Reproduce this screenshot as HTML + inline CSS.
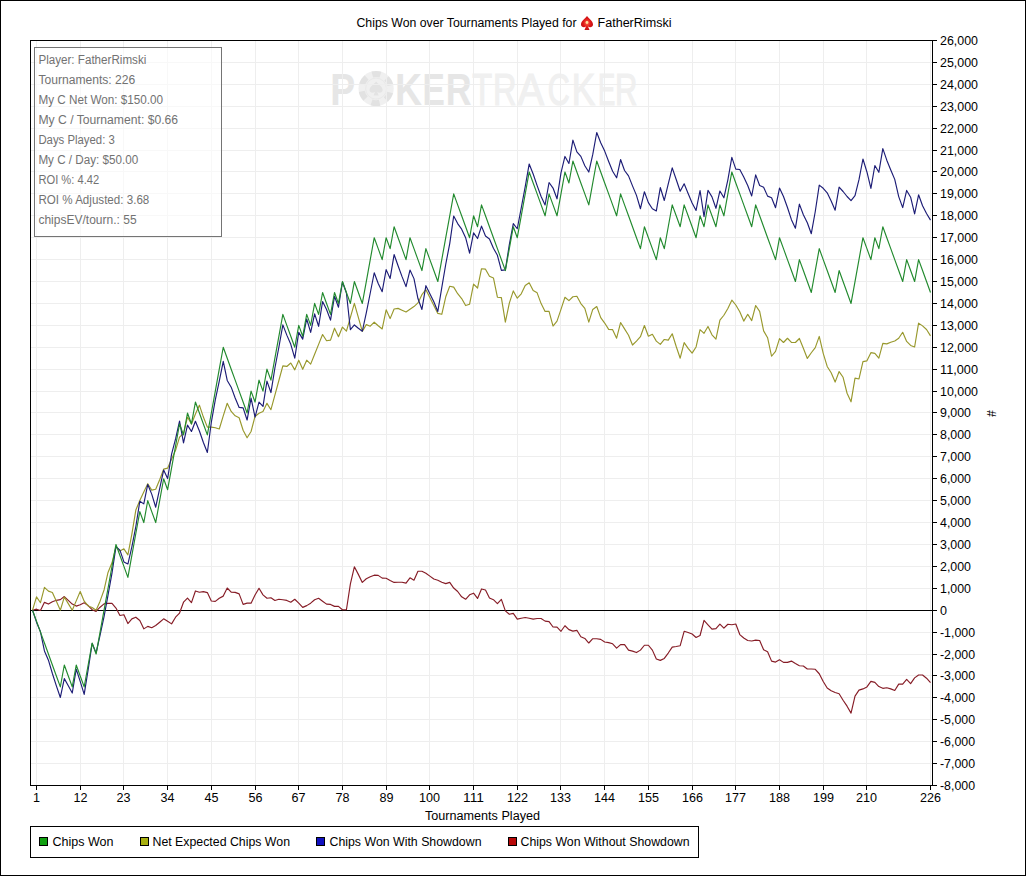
<!DOCTYPE html>
<html><head><meta charset="utf-8"><title>Chips Won over Tournaments Played</title><style>html,body{margin:0;padding:0;background:#fff;width:1026px;height:876px;overflow:hidden}</style></head>
<body><svg width="1026" height="876" viewBox="0 0 1026 876" style="position:absolute;left:0;top:0"><rect x="0.5" y="0.5" width="1025" height="875" fill="#fff" stroke="#000" stroke-width="1"/><g font-family="Liberation Sans, Arial, sans-serif" font-size="45"><text transform="translate(330.31,104.7) scale(0.829,1)" fill="#e6e6e6" font-weight="bold">P</text><text transform="translate(394.99,104.7) scale(0.832,1)" fill="#e6e6e6" font-weight="bold">K</text><text transform="translate(422.56,104.7) scale(0.745,1)" fill="#e6e6e6" font-weight="bold">E</text><text transform="translate(445.81,104.7) scale(0.795,1)" fill="#e6e6e6" font-weight="bold">R</text><text transform="translate(472.17,104.7) scale(0.723,1)" fill="#f0f0f0" stroke="#f0f0f0" stroke-width="1.2">T</text><text transform="translate(493.03,104.7) scale(0.722,1)" fill="#f0f0f0" stroke="#f0f0f0" stroke-width="1.2">R</text><text transform="translate(517.52,104.7) scale(0.885,1)" fill="#f0f0f0" stroke="#f0f0f0" stroke-width="1.2">A</text><text transform="translate(547.65,104.7) scale(0.677,1)" fill="#f0f0f0" stroke="#f0f0f0" stroke-width="1.2">C</text><text transform="translate(571.71,104.7) scale(0.782,1)" fill="#f0f0f0" stroke="#f0f0f0" stroke-width="1.2">K</text><text transform="translate(597.88,104.7) scale(0.574,1)" fill="#f0f0f0" stroke="#f0f0f0" stroke-width="1.2">E</text><text transform="translate(615.06,104.7) scale(0.689,1)" fill="#f0f0f0" stroke="#f0f0f0" stroke-width="1.2">R</text></g><g transform="translate(376.1,88.6)"><circle r="17.6" fill="#f0f0f0"/><circle r="14.6" fill="none" stroke="#e2e2e2" stroke-width="6" stroke-dasharray="8.2 7.09" transform="rotate(-105)"/><circle r="10.5" fill="none" stroke="#e9e9e9" stroke-width="1"/><path d="M0,-7 C-2,-4 -6.5,-2 -6.5,1.5 C-6.5,4.2 -3,5 -1,3.2 L-2.6,7 L2.6,7 L1,3.2 C3,5 6.5,4.2 6.5,1.5 C6.5,-2 2,-4 0,-7Z" fill="#e3e3e3"/></g><path d="M36.5 41V785M80.5 41V785M123.5 41V785M167.5 41V785M211.5 41V785M255.5 41V785M298.5 41V785M342.5 41V785M386.5 41V785M429.5 41V785M473.5 41V785M517.5 41V785M560.5 41V785M604.5 41V785M648.5 41V785M692.5 41V785M735.5 41V785M779.5 41V785M823.5 41V785M866.5 41V785M930.5 41V785M31 785.5H932M31 763.5H932M31 741.5H932M31 719.5H932M31 697.5H932M31 675.5H932M31 654.5H932M31 632.5H932M31 610.5H932M31 588.5H932M31 566.5H932M31 544.5H932M31 522.5H932M31 500.5H932M31 478.5H932M31 456.5H932M31 434.5H932M31 412.5H932M31 391.5H932M31 369.5H932M31 347.5H932M31 325.5H932M31 303.5H932M31 281.5H932M31 259.5H932M31 237.5H932M31 215.5H932M31 193.5H932M31 171.5H932M31 150.5H932M31 128.5H932M31 106.5H932M31 84.5H932M31 62.5H932M31 40.5H932" stroke="#eeeeee" stroke-width="1" fill="none" shape-rendering="crispEdges"/><path d="M31 610.5H932" stroke="#000" stroke-width="1" shape-rendering="crispEdges"/><polyline points="32.53,610.21 36.50,609.18 40.47,610.53 44.45,602.36 48.42,604.07 52.39,601.68 56.37,600.32 60.34,599.62 64.31,596.55 68.29,600.35 72.26,604.07 76.23,606.11 80.21,604.75 84.18,602.71 88.15,605.54 92.13,609.70 96.10,611.37 100.07,607.20 104.05,603.87 108.02,603.37 111.99,603.37 115.97,608.04 119.94,615.53 123.91,614.70 127.89,623.53 131.86,618.86 135.83,617.20 139.81,620.53 143.78,628.87 147.75,626.38 151.73,627.69 155.70,625.54 159.67,622.21 163.65,618.86 167.62,621.36 171.59,623.88 175.57,617.20 179.54,613.03 183.51,602.21 187.49,598.04 191.46,602.67 195.43,590.95 199.41,592.22 203.38,591.62 207.35,592.59 211.33,601.00 215.30,601.40 219.27,598.26 223.25,596.12 227.22,588.01 231.19,592.22 235.17,592.39 239.14,593.86 243.11,604.33 247.09,603.17 251.06,603.17 255.03,595.04 259.01,588.29 262.98,594.85 266.95,598.26 270.93,597.78 274.90,600.43 278.87,599.25 282.85,599.73 286.82,600.43 290.79,602.21 294.77,599.27 298.74,603.17 302.71,607.38 306.69,605.63 310.66,603.17 314.63,599.75 318.61,598.31 322.58,601.22 326.55,604.16 330.53,604.44 334.50,606.39 338.47,606.39 342.45,609.72 346.42,609.72 350.39,583.91 354.37,566.78 358.34,574.38 362.31,582.40 366.29,578.78 370.26,576.83 374.23,575.17 378.21,575.37 382.18,578.11 386.15,578.28 390.13,580.43 394.10,582.40 398.07,582.20 402.05,582.20 406.02,583.17 409.99,577.80 413.97,580.25 417.94,571.27 421.91,571.27 425.89,573.22 429.86,576.13 433.83,579.07 437.81,580.25 441.78,582.20 445.75,583.65 449.73,582.40 453.70,588.05 457.67,591.47 461.65,596.84 465.62,599.27 469.59,594.80 473.57,593.16 477.54,598.42 481.51,588.95 485.49,589.94 489.46,598.02 493.43,599.69 497.41,603.59 501.38,599.38 505.35,610.89 509.33,614.30 513.30,613.32 517.27,619.17 521.25,618.20 525.22,617.52 529.19,618.20 533.17,619.17 537.14,618.49 541.11,618.49 545.09,621.12 549.06,621.60 553.03,626.99 557.01,627.19 560.98,631.28 564.95,625.72 568.93,629.62 572.90,631.09 576.87,630.32 580.85,636.76 584.82,638.41 588.79,643.01 592.77,638.71 596.74,638.71 600.71,639.39 604.69,642.02 608.66,642.61 612.63,643.77 616.61,648.18 620.58,644.56 624.55,644.56 628.53,650.13 632.50,651.09 636.47,652.56 640.45,650.13 644.42,645.24 648.39,645.24 652.37,650.13 656.34,658.92 660.31,660.38 664.29,658.41 668.26,653.04 672.23,647.19 676.21,646.51 680.18,645.72 684.15,631.28 688.13,632.56 692.10,634.02 696.07,637.44 700.05,635.49 704.02,620.35 707.99,624.76 711.97,629.14 715.94,628.66 719.91,624.08 723.89,628.17 727.86,624.25 731.83,624.76 735.81,624.01 739.78,634.57 743.75,638.01 747.73,640.47 751.70,640.97 755.67,640.18 759.65,640.47 763.62,649.80 767.59,651.77 771.57,661.11 775.54,662.09 779.51,659.84 783.49,662.38 787.46,662.38 791.43,661.11 795.41,663.56 799.38,665.73 803.35,666.02 807.33,668.97 811.30,668.97 815.27,669.26 819.25,673.75 823.22,681.53 827.19,687.99 831.17,690.71 835.14,692.48 839.11,693.69 843.09,700.24 847.06,706.18 851.03,713.10 855.01,696.06 858.98,690.12 862.95,688.91 866.93,686.90 870.90,681.42 874.87,682.41 878.85,686.55 882.82,688.32 886.79,687.73 890.77,688.91 894.74,690.47 898.71,684.16 902.69,684.16 906.66,679.40 910.63,683.57 914.61,677.85 918.58,675.00 922.55,675.00 926.53,678.20 930.50,682.60" fill="none" stroke="#861c26" stroke-width="1.15" stroke-linejoin="round"/><polyline points="32.53,610.21 36.50,596.91 40.47,602.71 44.45,587.35 48.42,591.10 52.39,592.48 56.37,601.34 60.34,610.21 64.31,597.06 68.29,603.63 72.26,610.21 76.23,600.89 80.21,591.58 84.18,601.18 88.15,605.98 92.13,607.58 96.10,610.21 100.07,601.18 104.05,589.98 108.02,572.41 111.99,562.81 115.97,546.84 119.94,551.04 123.91,548.85 127.89,554.83 131.86,534.06 135.83,510.07 139.81,500.49 143.78,492.10 147.75,483.71 151.73,490.09 155.70,489.30 159.67,479.70 163.65,469.18 167.62,468.15 171.59,459.01 175.57,450.36 179.54,437.17 183.51,433.40 187.49,417.08 191.46,423.96 195.43,413.94 199.41,405.16 203.38,417.08 207.35,427.13 211.33,427.13 215.30,427.75 219.27,429.00 223.25,415.83 227.22,403.27 231.19,411.42 235.17,415.83 239.14,417.71 243.11,430.27 247.09,437.80 251.06,431.52 255.03,416.46 259.01,413.31 262.98,411.42 266.95,403.36 270.93,409.71 274.90,395.10 278.87,380.48 282.85,365.87 286.82,366.44 290.79,363.02 294.77,369.86 298.74,360.17 302.71,369.29 306.69,360.17 310.66,364.16 314.63,354.27 318.61,344.38 322.58,334.49 326.55,340.76 330.53,340.19 334.50,328.20 338.47,336.77 342.45,327.06 346.42,331.20 350.39,317.31 354.37,303.42 358.34,317.41 362.31,331.40 366.29,324.61 370.26,326.21 374.23,322.20 378.21,325.79 382.18,328.99 386.15,309.82 390.13,318.60 394.10,309.03 398.07,308.37 402.05,310.19 406.02,312.03 409.99,309.29 413.97,306.55 417.94,302.89 421.91,294.68 425.89,289.64 429.86,297.57 433.83,305.50 437.81,313.43 441.78,314.31 445.75,296.78 449.73,286.26 453.70,287.14 457.67,293.71 461.65,298.53 465.62,305.54 469.59,304.23 473.57,284.07 477.54,288.02 481.51,268.73 485.49,269.17 489.46,276.18 493.43,277.94 497.41,297.22 501.38,297.66 505.35,322.07 509.33,303.09 513.30,290.91 517.27,298.23 521.25,293.82 525.22,285.54 529.19,282.80 533.17,290.60 537.14,292.86 541.11,303.59 545.09,311.40 549.06,311.40 553.03,326.03 557.01,321.15 560.98,309.44 564.95,297.24 568.93,300.66 572.90,296.76 576.87,296.28 580.85,303.59 584.82,308.46 588.79,322.13 592.77,309.44 596.74,306.51 600.71,317.68 604.69,323.05 608.66,329.41 612.63,329.69 616.61,338.19 620.58,322.57 624.55,328.92 628.53,335.26 632.50,345.03 636.47,341.11 640.45,336.73 644.42,325.51 648.39,336.24 652.37,334.29 656.34,341.11 660.31,344.33 664.29,339.46 668.26,340.14 672.23,333.79 676.21,346.48 680.18,358.20 684.15,342.58 688.13,348.43 692.10,353.18 696.07,346.98 700.05,329.69 704.02,333.31 707.99,326.47 711.97,334.77 715.94,339.16 719.91,320.14 723.89,315.25 727.86,308.42 731.83,300.13 735.81,305.00 739.78,311.83 743.75,321.10 747.73,314.27 751.70,320.62 755.67,305.50 759.65,311.35 763.62,330.87 767.59,337.69 771.57,356.25 775.54,351.36 779.51,338.61 783.49,342.51 787.46,338.26 791.43,342.47 795.41,342.47 799.38,338.48 803.35,348.19 807.33,358.44 811.30,352.74 815.27,347.62 819.25,336.42 823.22,353.31 827.19,366.44 831.17,372.70 835.14,382.08 839.11,371.56 843.09,377.28 847.06,393.26 851.03,401.82 855.01,378.18 858.98,378.99 862.95,361.62 866.93,360.85 870.90,352.68 874.87,353.36 878.85,358.18 882.82,343.43 886.79,343.85 890.77,342.25 894.74,341.04 898.71,338.26 902.69,332.28 906.66,341.46 910.63,345.42 914.61,347.02 918.58,323.12 922.55,325.90 926.53,329.49 930.50,335.87" fill="none" stroke="#98982c" stroke-width="1.15" stroke-linejoin="round"/><polyline points="32.53,610.21 36.50,622.19 40.47,631.79 44.45,650.92 48.42,660.16 52.39,673.51 56.37,685.82 60.34,697.48 64.31,678.64 68.29,685.80 72.26,693.03 76.23,669.08 80.21,681.40 84.18,694.39 88.15,669.65 92.13,643.58 96.10,652.87 100.07,635.12 104.05,616.54 108.02,595.13 111.99,573.22 115.97,546.64 119.94,550.10 123.91,561.89 127.89,564.02 131.86,546.77 135.83,526.52 139.81,501.28 143.78,503.89 147.75,484.48 151.73,494.12 155.70,507.22 159.67,488.64 163.65,470.08 167.62,478.54 171.59,454.11 175.57,438.88 179.54,421.13 183.51,442.91 187.49,425.16 191.46,431.49 195.43,421.30 199.41,430.99 203.38,442.54 207.35,452.53 211.33,422.20 215.30,399.90 219.27,381.12 223.25,361.35 227.22,380.42 231.19,387.17 235.17,397.95 239.14,407.43 243.11,407.92 247.09,420.03 251.06,398.12 255.03,417.21 259.01,402.04 262.98,406.45 266.95,381.12 270.93,392.56 274.90,367.99 278.87,347.26 282.85,324.87 286.82,335.13 290.79,344.31 294.77,358.20 298.74,332.39 302.71,339.14 306.69,318.98 310.66,332.39 314.63,313.89 318.61,326.30 322.58,301.47 326.55,309.49 330.53,320.16 334.50,296.30 338.47,307.25 342.45,282.01 346.42,292.97 350.39,329.74 354.37,324.96 358.34,328.31 362.31,331.25 366.29,312.95 370.26,292.99 374.23,272.74 378.21,283.50 382.18,291.72 386.15,269.63 390.13,278.44 394.10,254.56 398.07,265.71 402.05,276.66 406.02,286.66 409.99,270.11 413.97,278.62 417.94,298.55 421.91,309.51 425.89,285.65 429.86,293.69 433.83,301.71 437.81,311.48 441.78,287.62 445.75,264.26 449.73,243.60 453.70,216.04 457.67,223.57 461.65,229.16 465.62,237.68 469.59,253.11 473.57,232.84 477.54,238.54 481.51,226.09 485.49,236.06 489.46,238.93 493.43,248.22 497.41,255.28 501.38,270.44 505.35,269.89 509.33,244.56 513.30,223.64 517.27,228.74 521.25,207.80 525.22,186.56 529.19,163.97 533.17,173.96 537.14,185.60 541.11,196.56 545.09,204.88 549.06,182.49 553.03,188.05 557.01,198.81 560.98,172.80 564.95,156.46 568.93,163.51 572.90,140.13 576.87,151.86 580.85,156.37 584.82,165.68 588.79,172.04 592.77,154.42 596.74,132.51 600.71,142.78 604.69,151.11 608.66,161.47 612.63,171.27 616.61,177.82 620.58,159.52 624.55,170.48 628.53,175.87 632.50,185.86 636.47,195.35 640.45,208.74 644.42,191.71 648.39,202.67 652.37,208.74 656.34,210.91 660.31,187.53 664.29,200.46 668.26,183.91 672.23,167.85 676.21,179.49 680.18,191.23 684.15,183.76 688.13,193.44 692.10,202.93 696.07,210.47 700.05,190.51 704.02,216.60 707.99,190.29 711.97,196.86 715.94,208.30 719.91,190.97 723.89,197.83 727.86,179.84 731.83,157.42 735.81,169.12 739.78,169.52 743.75,177.03 747.73,185.53 751.70,195.99 755.67,174.86 759.65,185.53 763.62,187.16 767.59,196.14 771.57,197.76 775.54,207.73 779.51,188.08 783.49,196.49 787.46,207.45 791.43,219.67 795.41,228.17 799.38,204.09 803.35,214.76 807.33,222.76 811.30,233.72 815.27,211.52 819.25,185.12 823.22,188.29 827.19,192.79 831.17,201.03 835.14,210.21 839.11,187.09 843.09,191.49 847.06,196.51 851.03,200.54 855.01,195.68 858.98,179.71 862.95,159.00 866.93,171.97 870.90,188.40 874.87,165.51 878.85,172.32 882.82,148.63 886.79,160.18 890.77,169.95 894.74,179.35 898.71,196.62 902.69,207.58 906.66,190.42 910.63,197.21 914.61,213.89 918.58,194.82 922.55,205.78 926.53,213.54 930.50,220.09" fill="none" stroke="#1c1c76" stroke-width="1.15" stroke-linejoin="round"/><polyline points="32.53,610.21 36.50,621.16 40.47,632.12 44.45,643.07 48.42,654.03 52.39,664.99 56.37,675.94 60.34,686.90 64.31,664.99 68.29,675.94 72.26,686.90 76.23,664.99 80.21,675.94 84.18,686.90 88.15,664.99 92.13,643.07 96.10,654.03 100.07,632.12 104.05,610.21 108.02,588.29 111.99,566.38 115.97,544.47 119.94,555.43 123.91,566.38 127.89,577.34 131.86,555.43 135.83,533.51 139.81,511.60 143.78,522.56 147.75,500.65 151.73,511.60 155.70,522.56 159.67,500.65 163.65,478.74 167.62,489.69 171.59,467.78 175.57,445.87 179.54,423.96 183.51,434.91 187.49,413.00 191.46,423.96 195.43,402.04 199.41,413.00 203.38,423.96 207.35,434.91 211.33,413.00 215.30,391.09 219.27,369.18 223.25,347.26 227.22,358.22 231.19,369.18 235.17,380.13 239.14,391.09 243.11,402.04 247.09,413.00 251.06,391.09 255.03,402.04 259.01,380.13 262.98,391.09 266.95,369.18 270.93,380.13 274.90,358.22 278.87,336.31 282.85,314.40 286.82,325.35 290.79,336.31 294.77,347.26 298.74,325.35 302.71,336.31 306.69,314.40 310.66,325.35 314.63,303.44 318.61,314.40 322.58,292.49 326.55,303.44 330.53,314.40 334.50,292.49 338.47,303.44 342.45,281.53 346.42,292.49 350.39,303.44 354.37,281.53 358.34,292.49 362.31,303.44 366.29,281.53 370.26,259.62 374.23,237.71 378.21,248.66 382.18,259.62 386.15,237.71 390.13,248.66 394.10,226.75 398.07,237.71 402.05,248.66 406.02,259.62 409.99,237.71 413.97,248.66 417.94,259.62 421.91,270.57 425.89,248.66 429.86,259.62 433.83,270.57 437.81,281.53 441.78,259.62 445.75,237.71 449.73,215.79 453.70,193.88 457.67,204.84 461.65,215.79 465.62,226.75 469.59,237.71 473.57,215.79 477.54,226.75 481.51,204.84 485.49,215.79 489.46,226.75 493.43,237.71 497.41,248.66 501.38,259.62 505.35,270.57 509.33,248.66 513.30,226.75 517.27,237.71 521.25,215.79 525.22,193.88 529.19,171.97 533.17,182.93 537.14,193.88 541.11,204.84 545.09,215.79 549.06,193.88 553.03,204.84 557.01,215.79 560.98,193.88 564.95,171.97 568.93,182.93 572.90,161.01 576.87,171.97 580.85,182.93 584.82,193.88 588.79,204.84 592.77,182.93 596.74,161.01 600.71,171.97 604.69,182.93 608.66,193.88 612.63,204.84 616.61,215.79 620.58,193.88 624.55,204.84 628.53,215.79 632.50,226.75 636.47,237.71 640.45,248.66 644.42,226.75 648.39,237.71 652.37,248.66 656.34,259.62 660.31,237.71 664.29,248.66 668.26,226.75 672.23,204.84 676.21,215.79 680.18,226.75 684.15,204.84 688.13,215.79 692.10,226.75 696.07,237.71 700.05,215.79 704.02,226.75 707.99,204.84 711.97,215.79 715.94,226.75 719.91,204.84 723.89,215.79 727.86,193.88 731.83,171.97 735.81,182.93 739.78,193.88 743.75,204.84 747.73,215.79 751.70,226.75 755.67,204.84 759.65,215.79 763.62,226.75 767.59,237.71 771.57,248.66 775.54,259.62 779.51,237.71 783.49,248.66 787.46,259.62 791.43,270.57 795.41,281.53 799.38,259.62 803.35,270.57 807.33,281.53 811.30,292.49 815.27,270.57 819.25,248.66 823.22,259.62 827.19,270.57 831.17,281.53 835.14,292.49 839.11,270.57 843.09,281.53 847.06,292.49 851.03,303.44 855.01,281.53 858.98,259.62 862.95,237.71 866.93,248.66 870.90,259.62 874.87,237.71 878.85,248.66 882.82,226.75 886.79,237.71 890.77,248.66 894.74,259.62 898.71,270.57 902.69,281.53 906.66,259.62 910.63,270.57 914.61,281.53 918.58,259.62 922.55,270.57 926.53,281.53 930.50,292.49" fill="none" stroke="#228a2e" stroke-width="1.15" stroke-linejoin="round"/><rect x="30.5" y="40.5" width="902" height="745" fill="none" stroke="#000" stroke-width="1" shape-rendering="crispEdges"/><path d="M36.5 786V790M80.5 786V790M123.5 786V790M167.5 786V790M211.5 786V790M255.5 786V790M298.5 786V790M342.5 786V790M386.5 786V790M429.5 786V790M473.5 786V790M517.5 786V790M560.5 786V790M604.5 786V790M648.5 786V790M692.5 786V790M735.5 786V790M779.5 786V790M823.5 786V790M866.5 786V790M930.5 786V790M933 785.5H937M933 763.5H937M933 741.5H937M933 719.5H937M933 697.5H937M933 675.5H937M933 654.5H937M933 632.5H937M933 610.5H937M933 588.5H937M933 566.5H937M933 544.5H937M933 522.5H937M933 500.5H937M933 478.5H937M933 456.5H937M933 434.5H937M933 412.5H937M933 391.5H937M933 369.5H937M933 347.5H937M933 325.5H937M933 303.5H937M933 281.5H937M933 259.5H937M933 237.5H937M933 215.5H937M933 193.5H937M933 171.5H937M933 150.5H937M933 128.5H937M933 106.5H937M933 84.5H937M933 62.5H937M933 40.5H937" stroke="#000" stroke-width="1" fill="none" shape-rendering="crispEdges"/><g font-family="Liberation Sans, Arial, sans-serif" font-size="12" fill="#000"><text x="36.5" y="802" text-anchor="middle" textLength="7" lengthAdjust="spacingAndGlyphs">1</text><text x="80.5" y="802" text-anchor="middle" textLength="14" lengthAdjust="spacingAndGlyphs">12</text><text x="123.5" y="802" text-anchor="middle" textLength="14" lengthAdjust="spacingAndGlyphs">23</text><text x="167.5" y="802" text-anchor="middle" textLength="14" lengthAdjust="spacingAndGlyphs">34</text><text x="211.5" y="802" text-anchor="middle" textLength="14" lengthAdjust="spacingAndGlyphs">45</text><text x="255.5" y="802" text-anchor="middle" textLength="14" lengthAdjust="spacingAndGlyphs">56</text><text x="298.5" y="802" text-anchor="middle" textLength="14" lengthAdjust="spacingAndGlyphs">67</text><text x="342.5" y="802" text-anchor="middle" textLength="14" lengthAdjust="spacingAndGlyphs">78</text><text x="386.5" y="802" text-anchor="middle" textLength="14" lengthAdjust="spacingAndGlyphs">89</text><text x="429.5" y="802" text-anchor="middle" textLength="21" lengthAdjust="spacingAndGlyphs">100</text><text x="473.5" y="802" text-anchor="middle" textLength="21" lengthAdjust="spacingAndGlyphs">111</text><text x="517.5" y="802" text-anchor="middle" textLength="21" lengthAdjust="spacingAndGlyphs">122</text><text x="560.5" y="802" text-anchor="middle" textLength="21" lengthAdjust="spacingAndGlyphs">133</text><text x="604.5" y="802" text-anchor="middle" textLength="21" lengthAdjust="spacingAndGlyphs">144</text><text x="648.5" y="802" text-anchor="middle" textLength="21" lengthAdjust="spacingAndGlyphs">155</text><text x="692.5" y="802" text-anchor="middle" textLength="21" lengthAdjust="spacingAndGlyphs">166</text><text x="735.5" y="802" text-anchor="middle" textLength="21" lengthAdjust="spacingAndGlyphs">177</text><text x="779.5" y="802" text-anchor="middle" textLength="21" lengthAdjust="spacingAndGlyphs">188</text><text x="823.5" y="802" text-anchor="middle" textLength="21" lengthAdjust="spacingAndGlyphs">199</text><text x="866.5" y="802" text-anchor="middle" textLength="21" lengthAdjust="spacingAndGlyphs">210</text><text x="930.5" y="802" text-anchor="middle" textLength="21" lengthAdjust="spacingAndGlyphs">226</text><text x="940" y="790" textLength="35" lengthAdjust="spacingAndGlyphs">-8,000</text><text x="940" y="768" textLength="35" lengthAdjust="spacingAndGlyphs">-7,000</text><text x="940" y="746" textLength="35" lengthAdjust="spacingAndGlyphs">-6,000</text><text x="940" y="724" textLength="35" lengthAdjust="spacingAndGlyphs">-5,000</text><text x="940" y="702" textLength="35" lengthAdjust="spacingAndGlyphs">-4,000</text><text x="940" y="680" textLength="35" lengthAdjust="spacingAndGlyphs">-3,000</text><text x="940" y="659" textLength="35" lengthAdjust="spacingAndGlyphs">-2,000</text><text x="940" y="637" textLength="35" lengthAdjust="spacingAndGlyphs">-1,000</text><text x="940" y="615" textLength="7" lengthAdjust="spacingAndGlyphs">0</text><text x="940" y="593" textLength="31" lengthAdjust="spacingAndGlyphs">1,000</text><text x="940" y="571" textLength="31" lengthAdjust="spacingAndGlyphs">2,000</text><text x="940" y="549" textLength="31" lengthAdjust="spacingAndGlyphs">3,000</text><text x="940" y="527" textLength="31" lengthAdjust="spacingAndGlyphs">4,000</text><text x="940" y="505" textLength="31" lengthAdjust="spacingAndGlyphs">5,000</text><text x="940" y="483" textLength="31" lengthAdjust="spacingAndGlyphs">6,000</text><text x="940" y="461" textLength="31" lengthAdjust="spacingAndGlyphs">7,000</text><text x="940" y="439" textLength="31" lengthAdjust="spacingAndGlyphs">8,000</text><text x="940" y="417" textLength="31" lengthAdjust="spacingAndGlyphs">9,000</text><text x="940" y="396" textLength="38" lengthAdjust="spacingAndGlyphs">10,000</text><text x="940" y="374" textLength="38" lengthAdjust="spacingAndGlyphs">11,000</text><text x="940" y="352" textLength="38" lengthAdjust="spacingAndGlyphs">12,000</text><text x="940" y="330" textLength="38" lengthAdjust="spacingAndGlyphs">13,000</text><text x="940" y="308" textLength="38" lengthAdjust="spacingAndGlyphs">14,000</text><text x="940" y="286" textLength="38" lengthAdjust="spacingAndGlyphs">15,000</text><text x="940" y="264" textLength="38" lengthAdjust="spacingAndGlyphs">16,000</text><text x="940" y="242" textLength="38" lengthAdjust="spacingAndGlyphs">17,000</text><text x="940" y="220" textLength="38" lengthAdjust="spacingAndGlyphs">18,000</text><text x="940" y="198" textLength="38" lengthAdjust="spacingAndGlyphs">19,000</text><text x="940" y="176" textLength="38" lengthAdjust="spacingAndGlyphs">20,000</text><text x="940" y="155" textLength="38" lengthAdjust="spacingAndGlyphs">21,000</text><text x="940" y="133" textLength="38" lengthAdjust="spacingAndGlyphs">22,000</text><text x="940" y="111" textLength="38" lengthAdjust="spacingAndGlyphs">23,000</text><text x="940" y="89" textLength="38" lengthAdjust="spacingAndGlyphs">24,000</text><text x="940" y="67" textLength="38" lengthAdjust="spacingAndGlyphs">25,000</text><text x="940" y="45" textLength="38" lengthAdjust="spacingAndGlyphs">26,000</text><text x="425" y="820" textLength="115" lengthAdjust="spacingAndGlyphs">Tournaments Played</text><text x="356.5" y="27" textLength="220" lengthAdjust="spacingAndGlyphs">Chips Won over Tournaments Played for</text><text x="597.5" y="27" textLength="74" lengthAdjust="spacingAndGlyphs">FatherRimski</text><text transform="translate(986.5,413.5) rotate(90)" text-anchor="middle" font-size="12">#</text></g><defs><radialGradient id="sg" cx="0.5" cy="0.5" r="0.6"><stop offset="0" stop-color="#ff6a4a"/><stop offset="0.5" stop-color="#e01818"/><stop offset="1" stop-color="#b00c10"/></radialGradient></defs><g transform="translate(587,23)"><path d="M0,-7 C-2,-4 -6,-2 -6,1.5 C-6,4 -3,5 -1,3.5 L-2.5,7 L2.5,7 L1,3.5 C3,5 6,4 6,1.5 C6,-2 2,-4 0,-7Z" fill="url(#sg)"/><circle cx="0" cy="-0.5" r="1.4" fill="#ffe0a0"/></g><rect x="34.5" y="47.5" width="187" height="189" fill="#fff" fill-opacity="0.6" stroke="#747474" stroke-width="1" shape-rendering="crispEdges"/><g font-family="Liberation Sans, Arial, sans-serif" font-size="12.5" fill="#727272"><text x="38.4" y="64" textLength="107.9" lengthAdjust="spacingAndGlyphs">Player: FatherRimski</text><text x="38.4" y="84" textLength="96.9" lengthAdjust="spacingAndGlyphs">Tournaments: 226</text><text x="38.4" y="104" textLength="124.7" lengthAdjust="spacingAndGlyphs">My C Net Won: $150.00</text><text x="38.4" y="124" textLength="139.7" lengthAdjust="spacingAndGlyphs">My C / Tournament: $0.66</text><text x="38.4" y="144" textLength="76.4" lengthAdjust="spacingAndGlyphs">Days Played: 3</text><text x="38.4" y="164" textLength="99.9" lengthAdjust="spacingAndGlyphs">My C / Day: $50.00</text><text x="38.4" y="184" textLength="60.8" lengthAdjust="spacingAndGlyphs">ROI %: 4.42</text><text x="38.4" y="204" textLength="110.9" lengthAdjust="spacingAndGlyphs">ROI % Adjusted: 3.68</text><text x="38.4" y="224" textLength="98.2" lengthAdjust="spacingAndGlyphs">chipsEV/tourn.: 55</text></g><rect x="30.5" y="826.5" width="668" height="31" fill="#fff" stroke="#000" stroke-width="1" shape-rendering="crispEdges"/><g font-family="Liberation Sans, Arial, sans-serif" font-size="12" fill="#000"><rect x="39.5" y="837.5" width="8" height="8" fill="#10a010" stroke="#000" stroke-width="1" shape-rendering="crispEdges"/><text x="52.5" y="846" textLength="61" lengthAdjust="spacingAndGlyphs">Chips Won</text><rect x="140.5" y="837.5" width="8" height="8" fill="#a8b010" stroke="#000" stroke-width="1" shape-rendering="crispEdges"/><text x="152.5" y="846" textLength="137.5" lengthAdjust="spacingAndGlyphs">Net Expected Chips Won</text><rect x="316.5" y="837.5" width="8" height="8" fill="#1010c0" stroke="#000" stroke-width="1" shape-rendering="crispEdges"/><text x="329.5" y="846" textLength="152" lengthAdjust="spacingAndGlyphs">Chips Won With Showdown</text><rect x="508.5" y="837.5" width="8" height="8" fill="#b80808" stroke="#000" stroke-width="1" shape-rendering="crispEdges"/><text x="520.5" y="846" textLength="169" lengthAdjust="spacingAndGlyphs">Chips Won Without Showdown</text></g></svg></body></html>
